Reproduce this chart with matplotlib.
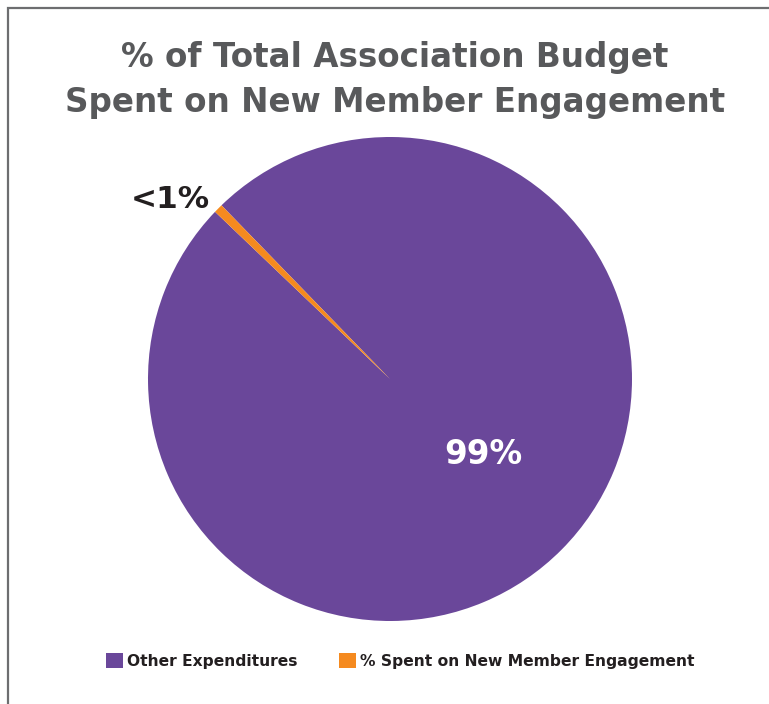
import matplotlib
matplotlib.use('Agg')
import matplotlib.pyplot as plt
from matplotlib.patches import Rectangle, Patch

categories = ['Other Expenditures', '% Spent on New Member Engagement']
values = [99.4, 0.6]
slice_labels = ['99%', '<1%']
colors = ['#6A479A', '#F58A1F']
title = '% of Total Association Budget\nSpent on New Member Engagement'

plt.rcParams['font.family'] = ['DejaVu Sans']

fig = plt.figure(figsize=(7.69, 7.04), dpi=100)

# frame around the chart (open at right/bottom like the crop)
fig.patches.append(Rectangle((8/769, -0.1), 1.2, 1 - 8/704 + 0.1, transform=fig.transFigure,
                             fill=False, edgecolor='#6d6e70', linewidth=1.6))

fig.text(395/769, 1 - 80/704, title, ha='center', va='center', fontsize=23.5,
         fontweight='bold', color='#58595B', linespacing=1.45)

ax = fig.add_axes([148/769, 83/704, 484/769, 484/704])
ax.pie(values, colors=colors, startangle=136.3, counterclock=True,
       wedgeprops=dict(linewidth=0))
ax.set_xlim(-1, 1)
ax.set_ylim(-1, 1)
ax.set_aspect('equal')
ax.axis('off')

ax.text(0.384, -0.314, slice_labels[0], ha='center', va='center', fontsize=23.5,
        fontweight='bold', color='white')
ax.text(-0.909, 0.740, slice_labels[1], ha='center', va='center', fontsize=22.5,
        fontweight='bold', color='#231F20')

handles = [Patch(facecolor=c, edgecolor='none') for c in colors]
leg = fig.legend(handles, categories, loc='center', bbox_to_anchor=(400/769, 1 - 661/704),
                 ncol=2, frameon=False, handlelength=1.1, handleheight=1.1,
                 handletextpad=0.25, columnspacing=2.7, prop={'weight': 'bold', 'size': 11.2})
for t in leg.get_texts():
    t.set_color('#231F20')

fig.savefig('out.png', dpi=100)
